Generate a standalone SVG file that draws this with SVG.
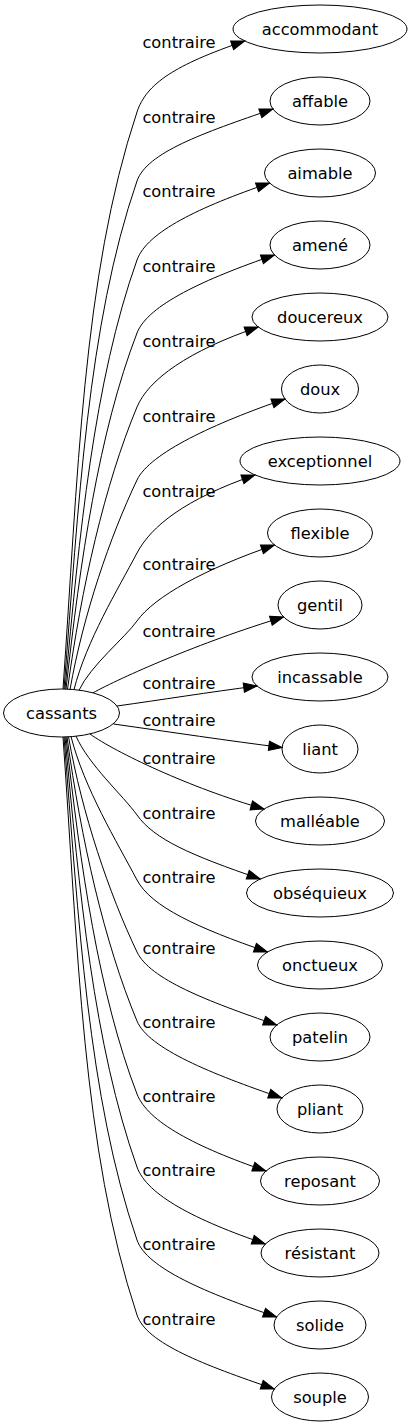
<svg xmlns="http://www.w3.org/2000/svg" width="413" height="1427" viewBox="0 0 413 1427">
<style>
text{font-family:"DejaVu Sans","Liberation Sans",sans-serif;font-size:16.3px;fill:#000;text-anchor:middle}
ellipse{fill:none;stroke:#000;stroke-width:1}
.e path{fill:none;stroke:#000;stroke-width:1;marker-end:url(#arr)}
</style>
<defs>
<marker id="arr" markerUnits="userSpaceOnUse" viewBox="-1 -1 15.3 11.33" markerWidth="15.3" markerHeight="11.33" refX="13.3" refY="4.67" orient="auto">
<path d="M0,0 L13.3,4.67 L0,9.33 Z" fill="#000" stroke="#000" stroke-width="1"/>
</marker>
</defs>
<rect width="413" height="1427" fill="#fff"/>
<g id="edges" class="e">
<g id="e-accommodant"><path d="M63,689 C77.8,481.3 82.3,276.3 137,112 C146.5,83.5 174.7,65 244.7,41"/><text x="179" y="48.2">contraire</text></g>
<g id="e-affable"><path d="M64,689 C78.6,506.1 87.3,325 137,181 C146.8,152.6 202.9,133 272.9,109"/><text x="179" y="122.5">contraire</text></g>
<g id="e-aimable"><path d="M65,689.1 C79.4,534.6 93.8,381.3 137,260 C147.1,231.7 199.6,207 269.6,183"/><text x="179" y="196.5">contraire</text></g>
<g id="e-amene"><path d="M66,689.1 C80.2,560.9 98.7,432.7 137,333 C147.8,305 204.5,279 274.5,255"/><text x="179" y="272.2">contraire</text></g>
<g id="e-doucereux"><path d="M67.5,689.3 C81.4,587.7 104.4,485.2 137,407 C148.6,379.3 188.2,351 258.2,327"/><text x="179" y="347.2">contraire</text></g>
<g id="e-doux"><path d="M70,689.5 C83.4,614.1 110,536.8 137,480 C149.9,452.9 215,423 285,399"/><text x="179" y="421.5">contraire</text></g>
<g id="e-exceptionnel"><path d="M74,689.6 C86.6,640.4 117.9,589.3 137,553 C151,526.4 185,499 255,475"/><text x="179" y="496.5">contraire</text></g>
<g id="e-flexible"><path d="M79,690.3 C90.6,665.4 124.9,637.9 137,621 C154.4,596.6 204.5,569 274.5,545"/><text x="179" y="569.5">contraire</text></g>
<g id="e-gentil"><path d="M93,692.8 C120,678 200,642 283.6,617"/><text x="179" y="636.5">contraire</text></g>
<g id="e-incassable"><path d="M117,706 C160,700 210,692 257,686"/><text x="179" y="688.5">contraire</text></g>
<g id="e-liant"><path d="M113.5,724 C170,732 230,741 282.1,747.5"/><text x="179" y="725.5">contraire</text></g>
<g id="e-malleable"><path d="M90,734 C115,752 190,788 264.1,809"/><text x="179" y="763.5">contraire</text></g>
<g id="e-obsequieux"><path d="M76,736 C88.2,764.4 123.2,795.7 137,815 C154.4,839.4 190.3,855 260.3,879"/><text x="179" y="818.5">contraire</text></g>
<g id="e-onctueux"><path d="M71,736.5 C84.2,788.2 116.9,841.9 137,880 C151,906.6 197.5,928 267.5,952"/><text x="179" y="882.5">contraire</text></g>
<g id="e-patelin"><path d="M68.5,736.8 C82.2,814.3 109.2,893.7 137,952 C149.9,979.1 206.7,1001 276.7,1025"/><text x="179" y="953.5">contraire</text></g>
<g id="e-pliant"><path d="M67,737 C81,839.2 104.2,942.4 137,1021 C148.6,1048.7 211.8,1074 281.8,1098"/><text x="179" y="1027.5">contraire</text></g>
<g id="e-reposant"><path d="M66,737 C80.2,865.5 98.6,994.1 137,1094 C147.8,1122 195.9,1147 265.9,1171"/><text x="179" y="1101.5">contraire</text></g>
<g id="e-resistant"><path d="M65,737 C79.4,891.8 93.7,1045.5 137,1167 C147.1,1195.3 195.3,1220 265.3,1244"/><text x="179" y="1175.5">contraire</text></g>
<g id="e-solide"><path d="M64,737 C78.6,918.1 87.8,1097.4 137,1240 C146.8,1268.4 206.6,1293 276.6,1317"/><text x="179" y="1249.5">contraire</text></g>
<g id="e-souple"><path d="M63,737 C77.8,945.1 82.2,1150.4 137,1315 C146.5,1343.5 204.3,1365 274.3,1389"/><text x="179" y="1324.5">contraire</text></g>
</g>
<g id="n-cassants"><ellipse cx="61.5" cy="713" rx="58" ry="24"/><text x="61.5" y="718.5">cassants</text></g>
<g id="n-accommodant"><ellipse cx="320" cy="29" rx="87" ry="24"/><text x="320" y="34.5">accommodant</text></g>
<g id="n-affable"><ellipse cx="320" cy="101" rx="50" ry="24"/><text x="320" y="106.5">affable</text></g>
<g id="n-aimable"><ellipse cx="320" cy="173" rx="55.5" ry="24"/><text x="320" y="178.5">aimable</text></g>
<g id="n-amene"><ellipse cx="320" cy="245" rx="50" ry="24"/><text x="320" y="250.5">amené</text></g>
<g id="n-doucereux"><ellipse cx="320" cy="317" rx="68" ry="24"/><text x="320" y="322.5">doucereux</text></g>
<g id="n-doux"><ellipse cx="320" cy="389" rx="38.5" ry="24"/><text x="320" y="394.5">doux</text></g>
<g id="n-exceptionnel"><ellipse cx="320" cy="461" rx="80" ry="24"/><text x="320" y="466.5">exceptionnel</text></g>
<g id="n-flexible"><ellipse cx="320" cy="533" rx="52.5" ry="24"/><text x="320" y="538.5">flexible</text></g>
<g id="n-gentil"><ellipse cx="320" cy="605" rx="42" ry="24"/><text x="320" y="610.5">gentil</text></g>
<g id="n-incassable"><ellipse cx="320" cy="677" rx="68" ry="24"/><text x="320" y="682.5">incassable</text></g>
<g id="n-liant"><ellipse cx="320" cy="749" rx="38" ry="24"/><text x="320" y="754.5">liant</text></g>
<g id="n-malleable"><ellipse cx="320" cy="821" rx="64.5" ry="24"/><text x="320" y="826.5">malléable</text></g>
<g id="n-obsequieux"><ellipse cx="320" cy="893" rx="73.5" ry="24"/><text x="320" y="898.5">obséquieux</text></g>
<g id="n-onctueux"><ellipse cx="320" cy="965" rx="62.5" ry="24"/><text x="320" y="970.5">onctueux</text></g>
<g id="n-patelin"><ellipse cx="320" cy="1037" rx="50" ry="24"/><text x="320" y="1042.5">patelin</text></g>
<g id="n-pliant"><ellipse cx="320" cy="1109" rx="43" ry="24"/><text x="320" y="1114.5">pliant</text></g>
<g id="n-reposant"><ellipse cx="320" cy="1181" rx="59.5" ry="24"/><text x="320" y="1186.5">reposant</text></g>
<g id="n-resistant"><ellipse cx="320" cy="1253" rx="59" ry="24"/><text x="320" y="1258.5">résistant</text></g>
<g id="n-solide"><ellipse cx="320" cy="1325" rx="46" ry="24"/><text x="320" y="1330.5">solide</text></g>
<g id="n-souple"><ellipse cx="320" cy="1397" rx="48.5" ry="24"/><text x="320" y="1402.5">souple</text></g>
</svg>
